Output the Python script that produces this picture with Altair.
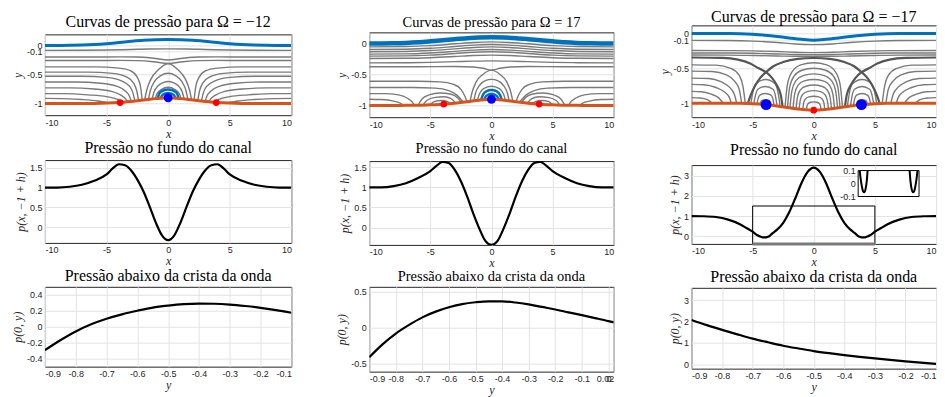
import altair as alt
import pandas as pd

# ---------------- Row 1 : free surface and bottom profiles ----------------
PROFILE_X = [-10, -9, -8, -7, -6, -5, -4, -3, -2, -1, 0, 1, 2, 3, 4, 5, 6, 7, 8, 9, 10]
SURF_A = [0, 0, 0.002, 0.006, 0.015, 0.03, 0.05, 0.07, 0.087, 0.097, 0.1, 0.097, 0.087, 0.07, 0.05, 0.03, 0.015, 0.006, 0.002, 0, 0]
BOT_A = [-1, -1, -1, -0.999, -0.997, -0.992, -0.982, -0.963, -0.94, -0.915, -0.9, -0.915, -0.94, -0.963, -0.982, -0.992, -0.997, -0.999, -1, -1, -1]
SURF_B = [0, 0.001, 0.004, 0.01, 0.02, 0.035, 0.052, 0.07, 0.086, 0.097, 0.1, 0.097, 0.086, 0.07, 0.052, 0.035, 0.02, 0.01, 0.004, 0.001, 0]
BOT_B = [-1, -1, -1, -0.999, -0.997, -0.99, -0.98, -0.964, -0.942, -0.915, -0.9, -0.915, -0.942, -0.964, -0.98, -0.99, -0.997, -0.999, -1, -1, -1]
SURF_C = [0, 0, 0, -0.001, -0.004, -0.012, -0.025, -0.043, -0.065, -0.085, -0.097, -0.085, -0.065, -0.043, -0.025, -0.012, -0.004, -0.001, 0, 0, 0]
BOT_C = [-1, -1, -1, -1, -1.002, -1.008, -1.02, -1.04, -1.065, -1.088, -1.1, -1.088, -1.065, -1.04, -1.02, -1.008, -1.002, -1, -1, -1, -1]

# stagnation / extremum points
RED_A = [(-3.9, -0.983), (3.9, -0.983)]
BLUE_A = [(0, -0.9)]
RED_B = [(-3.9, -0.978), (3.9, -0.978)]
BLUE_B = [(0, -0.9)]
RED_C = [(0, -1.1)]
BLUE_C = [(-3.9, -1.02), (3.9, -1.02)]

# pressure contour lines (left half, x <= 0; the figure is mirror symmetric)
GRAY_A = [
    [(-10, -0.085), (-7, -0.084), (-5, -0.08), (-3, -0.07), (-1.5, -0.062), (0, -0.06)],
    [(-10, -0.2), (-6, -0.2), (-4, -0.198), (-2.5, -0.2), (-1.2, -0.22), (0, -0.25)],
    [(-10, -0.26), (-6, -0.26), (-4, -0.258), (-2.5, -0.262), (-1.2, -0.28), (0, -0.31)],
    [(-1.9, -0.937), (-1.75, -0.78), (-1.4, -0.58), (-0.8, -0.42), (0, -0.31)],
    [(-1.6, -0.93), (-1.45, -0.78), (-1.1, -0.62), (-0.6, -0.52), (0, -0.48)],
    [(-1.3, -0.925), (-1.15, -0.8), (-0.8, -0.69), (-0.4, -0.64), (0, -0.62)],
    [(-1.05, -0.92), (-0.9, -0.83), (-0.55, -0.76), (0, -0.72)],
    [(-10, -0.37), (-6, -0.37), (-4, -0.39), (-3, -0.44), (-2.5, -0.55), (-2.25, -0.7), (-2.1, -0.945)],
    [(-10, -0.46), (-6.5, -0.46), (-4.5, -0.48), (-3.4, -0.54), (-2.8, -0.65), (-2.55, -0.78), (-2.4, -0.95)],
    [(-10, -0.53), (-7, -0.53), (-5, -0.55), (-3.8, -0.61), (-3.1, -0.71), (-2.85, -0.82), (-2.7, -0.955)],
    [(-10, -0.63), (-7.5, -0.63), (-5.5, -0.65), (-4.2, -0.7), (-3.45, -0.79), (-3.15, -0.87), (-3.0, -0.963)],
    [(-10, -0.73), (-8, -0.73), (-6, -0.75), (-4.6, -0.79), (-3.8, -0.86), (-3.45, -0.92), (-3.3, -0.97)],
    [(-10, -0.83), (-8.5, -0.83), (-6.5, -0.85), (-5, -0.88), (-4.1, -0.93), (-3.7, -0.978)],
    [(-10, -0.91), (-8.5, -0.915), (-7, -0.93), (-5.7, -0.955), (-4.8, -0.988)],
]
BLUEARC_A = [
    [(-0.85, -0.915), (-0.7, -0.82), (-0.4, -0.775), (0, -0.76)],
    [(-0.6, -0.91), (-0.45, -0.85), (0, -0.82)],
]
GRAY_B = [
    [(-10, -0.054), (-7, -0.049), (-5, -0.034), (-3, -0.005), (-1.5, 0.017), (0, 0.027)],
    [(-10, -0.097), (-7, -0.092), (-5, -0.077), (-3, -0.048), (-1.5, -0.026), (0, -0.016)],
    [(-10, -0.134), (-7, -0.129), (-5, -0.114), (-3, -0.086), (-1.5, -0.064), (0, -0.054)],
    [(-10, -0.172), (-7, -0.168), (-5, -0.153), (-3, -0.127), (-1.5, -0.106), (0, -0.097)],
    [(-10, -0.204), (-7, -0.2), (-5, -0.187), (-3, -0.162), (-1.5, -0.142), (0, -0.134)],
    [(-10, -0.242), (-7, -0.239), (-5, -0.229), (-3, -0.21), (-1.5, -0.194), (0, -0.188)],
    [(-10, -0.312), (-7, -0.31), (-5, -0.304), (-3, -0.293), (-1.5, -0.284), (0, -0.28)],
    [(-10, -0.376), (-6, -0.376), (-3, -0.372), (-1.5, -0.38), (-0.7, -0.4), (0, -0.43)],
    [(-1.75, -0.935), (-1.6, -0.8), (-1.25, -0.62), (-0.7, -0.5), (0, -0.43)],
    [(-1.45, -0.93), (-1.3, -0.8), (-0.95, -0.67), (-0.5, -0.6), (0, -0.58)],
    [(-1.15, -0.925), (-1.0, -0.82), (-0.65, -0.73), (0, -0.69)],
    [(-10, -0.61), (-6, -0.61), (-4.2, -0.62), (-3.1, -0.66), (-2.5, -0.74), (-2.2, -0.84), (-2.0, -0.94)],
    [(-10, -0.71), (-6.5, -0.71), (-4.6, -0.72), (-3.5, -0.76), (-2.85, -0.83), (-2.5, -0.9), (-2.3, -0.949)],
    [(-10, -0.81), (-8.8, -0.81), (-7.6, -0.83), (-6.9, -0.88), (-6.5, -0.94), (-6.3, -0.998)],
    [(-10, -0.9), (-9, -0.905), (-8, -0.93), (-7.5, -0.96), (-7.2, -1.0)],
    [(-6.0, -0.997), (-5.7, -0.9), (-5.1, -0.83), (-4.2, -0.8), (-3.3, -0.82), (-2.75, -0.88), (-2.45, -0.95)],
    [(-5.6, -0.995), (-5.3, -0.92), (-4.6, -0.87), (-3.9, -0.86), (-3.3, -0.89), (-2.95, -0.96)],
    [(-5.0, -0.992), (-4.7, -0.94), (-4.1, -0.92), (-3.6, -0.94), (-3.3, -0.972)],
]
BLUEARC_B = [
    [(-0.85, -0.915), (-0.7, -0.83), (-0.4, -0.77), (0, -0.75)],
    [(-0.6, -0.91), (-0.45, -0.85), (0, -0.81)],
]
GRAY_C = [
    [(-10, -0.1), (-7, -0.102), (-5, -0.11), (-3, -0.13), (-1.5, -0.152), (0, -0.16)],
    [(-10, -0.245), (-7, -0.246), (-5, -0.25), (-3, -0.26), (-1.5, -0.27), (0, -0.275)],
    [(-10, -0.28), (-7, -0.281), (-5, -0.285), (-3, -0.294), (-1.5, -0.302), (0, -0.305)],
    [(-10, -0.31), (-7, -0.311), (-5, -0.316), (-3, -0.323), (-1.5, -0.328), (0, -0.33)],
    [(-2.35, -1.055), (-2.16, -0.737), (-1.76, -0.547), (-1.06, -0.452), (0, -0.42)],
    [(-2.15, -1.06), (-1.98, -0.78), (-1.61, -0.612), (-0.97, -0.528), (0, -0.5)],
    [(-1.95, -1.066), (-1.79, -0.823), (-1.46, -0.677), (-0.88, -0.604), (0, -0.58)],
    [(-1.7, -1.072), (-1.56, -0.866), (-1.28, -0.742), (-0.77, -0.681), (0, -0.66)],
    [(-1.45, -1.079), (-1.33, -0.91), (-1.09, -0.808), (-0.65, -0.757), (0, -0.74)],
    [(-1.2, -1.085), (-1.1, -0.953), (-0.9, -0.873), (-0.54, -0.833), (0, -0.82)],
    [(-0.9, -1.091), (-0.83, -0.996), (-0.68, -0.938), (-0.41, -0.91), (0, -0.9)],
    [(-0.6, -1.096), (-0.55, -1.038), (-0.45, -1.003), (-0.27, -0.986), (0, -0.98)],
    [(-5.15, -1.004), (-4.97, -0.83), (-4.73, -0.72), (-3.95, -0.66), (-3.17, -0.72), (-2.93, -0.84), (-2.75, -1.046)],
    [(-4.9, -1.006), (-4.76, -0.88), (-4.57, -0.8), (-3.95, -0.76), (-3.33, -0.8), (-3.14, -0.89), (-3.0, -1.04)],
    [(-4.65, -1.012), (-4.55, -0.93), (-4.4, -0.885), (-3.95, -0.86), (-3.5, -0.885), (-3.35, -0.935), (-3.25, -1.034)],
    [(-4.4, -1.015), (-4.33, -0.98), (-4.24, -0.96), (-3.95, -0.95), (-3.66, -0.96), (-3.57, -0.985), (-3.5, -1.028)],
    [(-10, -0.45), (-8, -0.455), (-6.8, -0.5), (-6.1, -0.6), (-5.8, -0.75), (-5.6, -1.004)],
    [(-10, -0.54), (-8.3, -0.545), (-7.2, -0.59), (-6.5, -0.68), (-6.1, -0.8), (-5.9, -1.002)],
    [(-10, -0.64), (-8.6, -0.645), (-7.6, -0.69), (-6.9, -0.77), (-6.5, -0.87), (-6.3, -1.001)],
    [(-10, -0.73), (-9, -0.735), (-8, -0.775), (-7.3, -0.84), (-6.9, -0.92), (-6.75, -1.0)],
    [(-10, -0.83), (-9.2, -0.835), (-8.4, -0.87), (-7.8, -0.92), (-7.4, -1.0)],
    [(-10, -0.92), (-9.3, -0.925), (-8.7, -0.95), (-8.3, -1.0)],
]
DARK_C = [
    [(-10, -0.345), (-7.5, -0.35), (-6.2, -0.375), (-5.2, -0.43), (-4.5, -0.5), (-3.9, -0.555)],
    [(-3.9, -0.555), (-3.3, -0.47), (-2.5, -0.41), (-1.3, -0.365), (0, -0.352)],
    [(-5.4, -1.006), (-5.15, -0.88), (-4.8, -0.75), (-4.35, -0.63), (-3.9, -0.555)],
    [(-3.9, -0.555), (-3.45, -0.63), (-3.0, -0.75), (-2.7, -0.88), (-2.55, -1.05)],
]

# ---------------- Row 2 : pressure at the channel bottom ----------------
BOTP_X = [-10, -9, -8, -7, -6, -5, -4.5, -4, -3.5, -3, -2.5, -2, -1.5, -1, -0.5, 0,
          0.5, 1, 1.5, 2, 2.5, 3, 3.5, 4, 4.5, 5, 6, 7, 8, 9, 10]
BOTP_A = [1.0, 1.0, 1.02, 1.07, 1.17, 1.33, 1.48, 1.585, 1.56, 1.43, 1.2, 0.9, 0.52, 0.12, -0.2, -0.32,
          -0.2, 0.12, 0.52, 0.9, 1.2, 1.43, 1.56, 1.585, 1.48, 1.33, 1.17, 1.07, 1.02, 1.0, 1.0]
BOTP_B = [1.0, 1.0, 1.03, 1.1, 1.23, 1.4, 1.53, 1.63, 1.6, 1.43, 1.15, 0.78, 0.36, -0.02, -0.33, -0.43,
          -0.33, -0.02, 0.36, 0.78, 1.15, 1.43, 1.6, 1.63, 1.53, 1.4, 1.23, 1.1, 1.03, 1.0, 1.0]
BOTP_CX = [-10, -9, -8, -7, -6, -5.5, -5, -4.75, -4.6, -4.4, -4.2, -4, -3.8, -3.6, -3.45, -3.2, -3, -2.5, -2, -1.5, -1, -0.5, 0,
           0.5, 1, 1.5, 2, 2.5, 3, 3.2, 3.45, 3.6, 3.8, 4, 4.2, 4.4, 4.6, 4.75, 5, 5.5, 6, 7, 8, 9, 10]
BOTP_C = [1.0, 0.99, 0.95, 0.82, 0.58, 0.4, 0.22, 0.1, 0.04, -0.02, -0.06, -0.068, -0.045, 0.015, 0.1, 0.22, 0.32, 0.66, 1.2, 1.9, 2.65, 3.2, 3.41,
          3.2, 2.65, 1.9, 1.2, 0.66, 0.32, 0.22, 0.1, 0.015, -0.045, -0.068, -0.06, -0.02, 0.04, 0.1, 0.22, 0.4, 0.58, 0.82, 0.95, 0.99, 1.0]
ZOOM_BOX_X = [-5, 5]
ZOOM_BOX_Y = [-0.39, 1.5]
INSET_X = [-5, 5]
INSET_Y = [-0.1, 0.1]

# ---------------- Row 3 : pressure below the wave crest ----------------
CREST_Y = [-0.9, -0.85, -0.8, -0.75, -0.7, -0.65, -0.6, -0.55, -0.5, -0.45, -0.4, -0.35, -0.3, -0.25, -0.2, -0.15, -0.1]
CREST_A = [-0.294, -0.17, -0.06, 0.03, 0.1, 0.155, 0.2, 0.24, 0.265, 0.283, 0.29, 0.288, 0.278, 0.26, 0.237, 0.208, 0.175]
CREST_BY = [-0.9, -0.85, -0.8, -0.75, -0.7, -0.65, -0.6, -0.55, -0.5, -0.45, -0.4, -0.35, -0.3, -0.25, -0.2, -0.15, -0.1, -0.05, 0, 0.02]
CREST_B = [-0.41, -0.23, -0.08, 0.04, 0.145, 0.225, 0.285, 0.33, 0.355, 0.368, 0.368, 0.352, 0.325, 0.29, 0.255, 0.215, 0.176, 0.135, 0.093, 0.075]
CREST_C = [2.07, 1.83, 1.61, 1.4, 1.2, 1.03, 0.87, 0.74, 0.62, 0.52, 0.43, 0.35, 0.28, 0.21, 0.14, 0.08, 0.02]

TITLES_TOP = ["Curvas de pressão para Ω = −12", "Curvas de pressão para Ω = 17", "Curvas de pressão para Ω = −17"]
TITLE_MID = "Pressão no fundo do canal"
TITLE_BOT = "Pressão abaixo da crista da onda"

BLUE = "#0072BD"
ORANGE = "#D95319"
GRAY = "#7a7a7a"
SERIF = "Liberation Serif"
SANS = "Liberation Sans"


def curves_df(curves, prefix):
    rows = []
    for i, c in enumerate(curves):
        if c[-1][0] == 0:
            pts = c + [(-x, y) for x, y in c if x != 0]
            rows += [{"cid": f"{prefix}{i}", "x": x, "y": y} for x, y in pts]
        else:
            rows += [{"cid": f"{prefix}{i}L", "x": x, "y": y} for x, y in c]
            rows += [{"cid": f"{prefix}{i}R", "x": -x, "y": y} for x, y in c]
    return pd.DataFrame(rows)


def ttl(text, fs, off):
    return alt.TitleParams(text=text, font=SERIF, fontSize=fs, fontWeight="normal",
                           color="black", offset=off, anchor="middle")


def xaxis(values, title, fs=9):
    return alt.Axis(values=values, title=title, labelExpr="datum.value + ''", labelFontSize=fs,
                    labelOverlap=False, titlePadding=1)


def yaxis(values, title, fs=9):
    return alt.Axis(values=values, title=title, labelExpr="datum.value + ''", labelFontSize=fs,
                    labelOverlap=False, titlePadding=2)


def contour_panel(title, surf, bot, gray, dark, bluearc, red, bluept, ydom, yticks, w, h, tfs, toff,
                  surf_w=3, red_size=45, blue_size=80):
    X = alt.X("x:Q", scale=alt.Scale(domain=[-10, 10], nice=False), axis=xaxis([-10, -5, 0, 5, 10], "x"))
    Y = alt.Y("y:Q", scale=alt.Scale(domain=ydom, nice=False), axis=yaxis(yticks, "y"))
    layers = []
    g = curves_df(gray, "g")
    layers.append(alt.Chart(g).mark_line(color=GRAY, strokeWidth=1.4, interpolate="monotone", clip=True)
                  .encode(x=X, y=Y, detail="cid:N"))
    if dark:
        d = curves_df(dark, "d")
        layers.append(alt.Chart(d).mark_line(color="#555555", strokeWidth=2.2, interpolate="monotone", clip=True)
                      .encode(x=X, y=Y, detail="cid:N"))
    if bluearc:
        b = curves_df(bluearc, "b")
        layers.append(alt.Chart(b).mark_line(color=BLUE, strokeWidth=2.5, interpolate="monotone", clip=True)
                      .encode(x=X, y=Y, detail="cid:N"))
    prof = pd.DataFrame({"x": PROFILE_X, "s": surf, "b": bot})
    layers.append(alt.Chart(prof).mark_line(color=BLUE, strokeWidth=surf_w, interpolate="monotone", clip=True)
                  .encode(x=X, y=alt.Y("s:Q", scale=alt.Scale(domain=ydom, nice=False), axis=yaxis(yticks, "y"))))
    layers.append(alt.Chart(prof).mark_line(color=ORANGE, strokeWidth=3, interpolate="monotone", clip=True)
                  .encode(x=X, y=alt.Y("b:Q", scale=alt.Scale(domain=ydom, nice=False), axis=yaxis(yticks, "y"))))
    rp = pd.DataFrame(red, columns=["x", "y"])
    layers.append(alt.Chart(rp).mark_circle(color="#ff0000", size=red_size, opacity=1).encode(x=X, y=Y))
    bp = pd.DataFrame(bluept, columns=["x", "y"])
    layers.append(alt.Chart(bp).mark_circle(color="#0000ff", size=blue_size, opacity=1).encode(x=X, y=Y))
    return alt.layer(*layers).properties(width=w, height=h, title=ttl(title, tfs, toff))


def line_panel(title, xs, ys, xdom, xticks, ydom, yticks, xt, yt, w, h, tfs, toff, extra=None):
    df = pd.DataFrame({"x": xs, "y": ys})
    X = alt.X("x:Q", scale=alt.Scale(domain=xdom, nice=False), axis=xaxis(xticks, xt))
    Y = alt.Y("y:Q", scale=alt.Scale(domain=ydom, nice=False), axis=yaxis(yticks, yt))
    main = alt.Chart(df).mark_line(color="black", strokeWidth=2.2, clip=True, interpolate="monotone").encode(x=X, y=Y)
    layers = [main]
    if extra is not None:
        layers = extra(X, Y, df) + layers
    return alt.layer(*layers).properties(width=w, height=h, title=ttl(title, tfs, toff))


def zoom_extras(X, Y, df):
    box = pd.DataFrame({"x": [ZOOM_BOX_X[0]], "x2": [ZOOM_BOX_X[1]], "y": [ZOOM_BOX_Y[0]], "y2": [ZOOM_BOX_Y[1]]})
    rect = alt.Chart(box).mark_rect(fill=None, stroke="black", strokeWidth=1).encode(x=X, x2="x2:Q", y=Y, y2="y2:Q")
    band = alt.Chart(box).mark_rule(color="#7a7a7a", strokeWidth=3).encode(x=X, x2="x2:Q", y=Y)
    return [rect, band]


def spacer(h):
    d = pd.DataFrame({"a": [0]})
    return (alt.Chart(d).mark_point(opacity=0)
            .encode(x=alt.X("a:Q", axis=None), y=alt.Y("a:Q", axis=None))
            .properties(width=20, height=h, view=alt.ViewBackground(stroke="transparent")))


XTOP = [-10, -5, 0, 5, 10]
XCREST = [-0.9, -0.8, -0.7, -0.6, -0.5, -0.4, -0.3, -0.2, -0.1]

TS_BIG = 16
TS_MID = 14.5

# column 1
c1r1 = contour_panel(TITLES_TOP[0], SURF_A, BOT_A, GRAY_A, None, BLUEARC_A, RED_A, BLUE_A,
                     [-1.2, 0.19], [-1, -0.5, -0.1, 0], 247, 81, TS_BIG, 4)
c1r2 = line_panel(TITLE_MID, BOTP_X, BOTP_A, [-10, 10], XTOP, [-0.39, 1.69], [0, 0.5, 1, 1.5],
                  "x", "p(x, −1 + h)", 247, 83, TS_BIG, 4)
c1r3 = line_panel(TITLE_BOT, CREST_Y, CREST_A, [-0.9, -0.1], XCREST, [-0.5, 0.5], [-0.4, -0.2, 0, 0.2, 0.4],
                  "y", "p(0, y)", 247, 80, TS_BIG, 3)
# column 2
c2r1 = contour_panel(TITLES_TOP[1], SURF_B, BOT_B, GRAY_B, None, BLUEARC_B, RED_B, BLUE_B,
                     [-1.19, 0.18], [-1, -0.5, 0], 245, 85, TS_MID, 1.4, surf_w=4.5)
c2r2 = line_panel(TITLE_MID, BOTP_X, BOTP_B, [-10, 10], XTOP, [-0.43, 1.65], [0, 0.5, 1, 1.5],
                  "x", "p(x, −1 + h)", 245, 84, TS_MID, 4.3)
c2r3 = line_panel(TITLE_BOT, CREST_BY, CREST_B, [-0.9, 0.02], XCREST + [0, 0.02], [-0.61, 0.57], [-0.5, 0, 0.5],
                  "y", "p(0, y)", 245, 85, TS_MID, 2.3)
# column 3
c3r1 = contour_panel(TITLES_TOP[2], SURF_C, BOT_C, GRAY_C, DARK_C, None, RED_C, BLUE_C,
                     [-1.2, 0.115], [-1, -0.5, -0.1, 0], 245, 92, TS_BIG, 0.3, blue_size=120)


def inset_layer():
    df = pd.DataFrame({"x": BOTP_CX, "y": BOTP_C})
    IX = alt.X("x:Q", scale=alt.Scale(domain=INSET_X, range=[167, 228], nice=False), axis=None)
    IY = alt.Y("y:Q", scale=alt.Scale(domain=INSET_Y, range=[31.5, 5.5], nice=False),
               axis=alt.Axis(values=[-0.1, 0, 0.1], title=None, orient="left", offset=-167, grid=False,
                             labelExpr="datum.value + ''", labelFontSize=9))
    fr = pd.DataFrame({"x": [INSET_X[0]], "x2": [INSET_X[1]], "y": [INSET_Y[0]], "y2": [INSET_Y[1]]})
    frame = alt.Chart(fr).mark_rect(fill="white", stroke="black", strokeWidth=1).encode(x=IX, x2="x2:Q", y=IY, y2="y2:Q")
    curve = (alt.Chart(df)
             .transform_filter("datum.x >= -5 && datum.x <= 5 && datum.y <= 0.1001")
             .transform_calculate(seg="datum.x < 0 ? 'L' : 'R'")
             .mark_line(color="black", strokeWidth=2, interpolate="monotone")
             .encode(x=IX, y=IY, detail="seg:N"))
    return alt.layer(frame, curve)


c3r2_main = line_panel(TITLE_MID, BOTP_CX, BOTP_C, [-10, 10], XTOP, [-0.39, 3.54], [0, 1, 2, 3],
                       "x", "p(x, −1 + h)", 245, 79, TS_BIG, 7, extra=zoom_extras)
c3r2 = alt.layer(c3r2_main, inset_layer()).resolve_scale(x="independent", y="independent").properties(
    width=245, height=79, title=ttl(TITLE_MID, TS_BIG, 7))
c3r3 = line_panel(TITLE_BOT, CREST_Y, CREST_C, [-0.9, -0.1], XCREST, [-0.2, 3.57], [0, 1, 2, 3],
                  "y", "p(0, y)", 245, 81, TS_BIG, 3)

# row-1 plot areas of the three columns start at different heights, as in the original
col1 = alt.vconcat(spacer(1), alt.vconcat(c1r1, c1r2, c1r3, spacing=-1), spacing=-16)
col2 = alt.vconcat(spacer(1), alt.vconcat(c2r1, c2r2, c2r3, spacing=-2), spacing=-15)
col3 = alt.vconcat(c3r1, c3r2, c3r3, spacing=-1)

chart = (alt.hconcat(col1, col2, col3, spacing=42)
         .properties(padding={"left": 2, "top": 0, "right": 0, "bottom": 0})
         .configure_view(stroke="#262626", strokeWidth=1)
         .configure_axis(grid=True, gridColor="#e3e3e3", gridWidth=1, ticks=False, domain=False,
                         labelFont=SANS, labelColor="#262626", labelPadding=3,
                         titleFont=SERIF, titleFontStyle="italic", titleFontWeight="normal",
                         titleFontSize=12, titleColor="#262626")
         .configure_title(font=SERIF, fontWeight="normal", color="black"))

chart.save("out.html", embed_options={"renderer": "svg", "actions": False})
